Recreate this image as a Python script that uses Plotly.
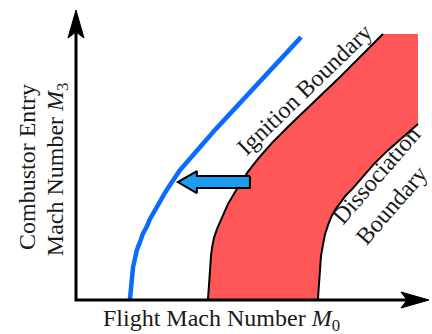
import plotly.graph_objects as go

# ---- data (arbitrary Mach-number units) ----
blue_m0 = [1.54, 1.56, 1.59, 1.63, 1.69, 1.74, 1.83, 1.91, 2.03, 2.11, 2.26, 2.40,
           2.54, 2.69, 2.83, 2.97, 4.00, 5.20, 6.43]
blue_m3 = [0.00, 0.29, 0.63, 0.94, 1.20, 1.43, 1.66, 1.89, 2.11, 2.31, 2.57, 2.83,
           3.06, 3.29, 3.51, 3.71, 4.89, 6.20, 7.51]

ign_m0 = [3.77, 3.79, 3.80, 3.83, 3.86, 3.89, 3.94, 4.03, 4.17, 4.34, 4.63, 4.91,
          5.20, 5.60, 6.11, 7.46, 8.77]
ign_m3 = [0.00, 0.29, 0.57, 1.00, 1.29, 1.51, 1.77, 2.03, 2.37, 2.74, 3.23, 3.66,
          4.03, 4.49, 5.00, 6.29, 7.60]

dis_m0 = [6.91, 6.93, 6.94, 6.97, 7.00, 7.06, 7.11, 7.20, 7.29, 7.40, 7.54, 7.69,
          7.89, 8.11, 8.49, 8.89, 9.31, 9.77]
dis_m3 = [0.00, 0.29, 0.57, 0.91, 1.26, 1.60, 1.86, 2.14, 2.37, 2.57, 2.77, 2.97,
          3.17, 3.43, 3.86, 4.26, 4.63, 5.03]

region_top_m3 = 7.60
region_right_m0 = 9.77

shift_arrow_m0 = [4.97, 2.91]   # tail -> tip
shift_arrow_m3 = 3.37

labels = {
    "x": "Flight Mach Number <i>M</i><sub>0</sub>",
    "y1": "Combustor Entry",
    "y2": "Mach Number <i>M</i><sub>3</sub>",
    "ign": "Ignition Boundary",
    "dis": "Dissociation<br>Boundary",
}

# ---- layout constants ----
W, H = 432, 334
XR = [-2.171, 10.171]
YR = [-0.971, 8.571]
sx = W / (XR[1] - XR[0])   # px per unit
sy = H / (YR[1] - YR[0])
FONT = "Liberation Serif"
FS = 24

fig = go.Figure()

# red feasible region
rx = ign_m0 + [region_right_m0, region_right_m0] + dis_m0[::-1]
ry = ign_m3 + [region_top_m3, dis_m3[-1]] + dis_m3[::-1]
fig.add_trace(go.Scatter(x=rx, y=ry, fill="toself", fillcolor="#ff5757",
                         line=dict(width=0), mode="lines", hoverinfo="skip"))
# boundaries
for bx, by in [(ign_m0, ign_m3), (dis_m0, dis_m3)]:
    fig.add_trace(go.Scatter(x=bx, y=by, mode="lines",
                             line=dict(color="black", width=2),
                             hoverinfo="skip"))
# blue curve
fig.add_trace(go.Scatter(x=blue_m0, y=blue_m3, mode="lines",
                         line=dict(color="#0a6cff", width=4.5),
                         hoverinfo="skip"))

# block arrow (pointing left)
tail, tip = shift_arrow_m0
hb = 6 / sy          # body half height
hh = 11 / sy         # head half height
head_len = 19 / sx
base = tip + head_len
ax = [tail, base, base, tip, base, base, tail, tail]
ay = [shift_arrow_m3 + hb, shift_arrow_m3 + hb, shift_arrow_m3 + hh, shift_arrow_m3,
      shift_arrow_m3 - hh, shift_arrow_m3 - hb, shift_arrow_m3 - hb, shift_arrow_m3 + hb]
fig.add_trace(go.Scatter(x=ax, y=ay, fill="toself", fillcolor="#1b9df2",
                         line=dict(color="black", width=2), mode="lines",
                         hoverinfo="skip"))

# axes with stealth arrowheads
x_tip = XR[1] - 3 / sx
y_tip = YR[1] - 10 / sy
L = 28
inner = 22
hw = 8
fig.add_trace(go.Scatter(x=[0, 0, x_tip - inner / sx], y=[y_tip - inner / sy, 0, 0],
                         mode="lines", line=dict(color="black", width=3),
                         hoverinfo="skip"))
fig.add_trace(go.Scatter(
    x=[x_tip, x_tip - L / sx, x_tip - inner / sx, x_tip - L / sx, x_tip],
    y=[0, hw / sy, 0, -hw / sy, 0],
    fill="toself", fillcolor="black", line=dict(color="black", width=1),
    mode="lines", hoverinfo="skip"))
fig.add_trace(go.Scatter(
    x=[0, hw / sx, 0, -hw / sx, 0],
    y=[y_tip, y_tip - L / sy, y_tip - inner / sy, y_tip - L / sy, y_tip],
    fill="toself", fillcolor="black", line=dict(color="black", width=1),
    mode="lines", hoverinfo="skip"))

font = dict(family=FONT, size=FS, color="#1a1a1a")
ann = [
    dict(x=4.16, y=-0.58, text=labels["x"], textangle=0, align="center"),
    dict(x=-1.40, y=3.80, text=labels["y1"], textangle=-90, align="center"),
    dict(x=-0.54, y=3.74, text=labels["y2"], textangle=-90, align="center"),
    dict(x=6.54, y=6.03, text=labels["ign"], textangle=-44, align="center"),
    dict(x=8.91, y=3.27, text=labels["dis"], textangle=-49, align="left"),
]
for a in ann:
    fig.add_annotation(xref="x", yref="y", showarrow=False, font=font,
                       xanchor="center", yanchor="middle", **a)

fig.update_layout(
    width=W, height=H, margin=dict(l=0, r=0, t=0, b=0),
    paper_bgcolor="white", plot_bgcolor="white", showlegend=False,
    xaxis=dict(range=XR, visible=False, fixedrange=True),
    yaxis=dict(range=YR, visible=False, fixedrange=True),
)
fig.write_html("out.html", config={"displayModeBar": False},
               post_script="document.body.style.margin='0';")
